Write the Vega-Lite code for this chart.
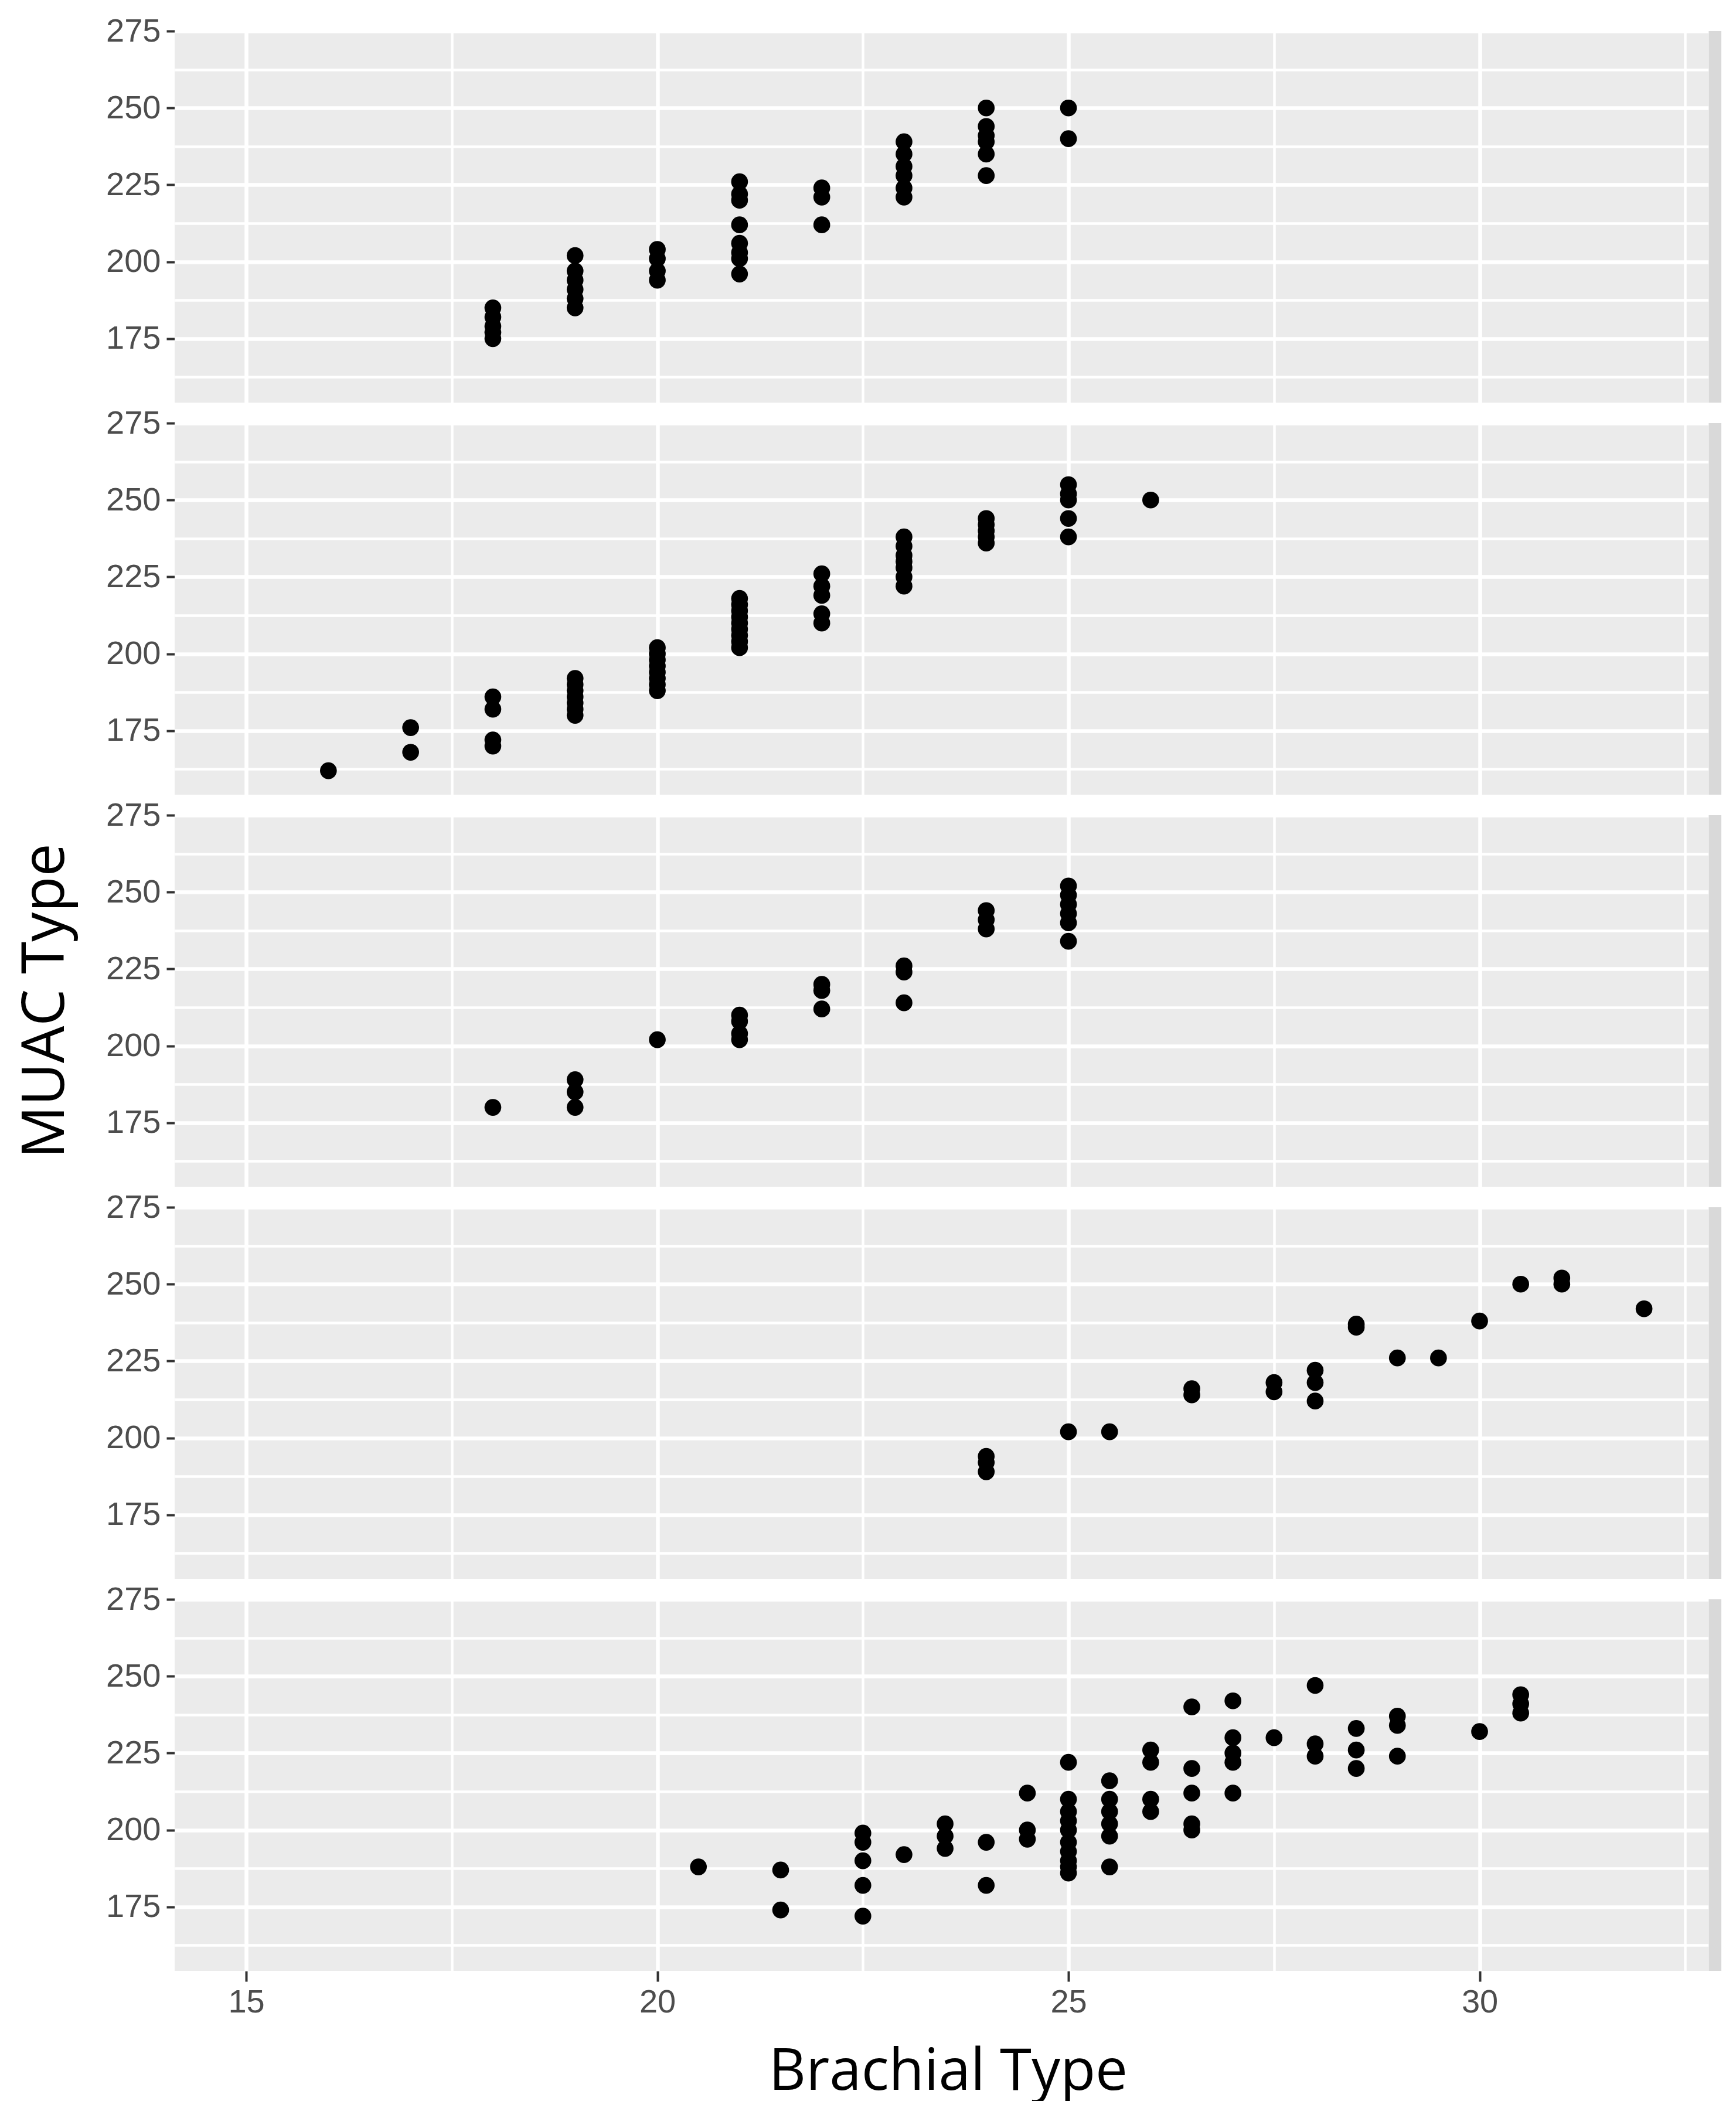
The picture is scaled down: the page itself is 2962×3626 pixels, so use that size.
{
  "$schema": "https://vega.github.io/schema/vega-lite/v6.json",
  "description": "MUAC Type against Brachial Type, five stacked panels",
  "background": "white",
  "padding": {"left": 28, "top": 25, "right": 0, "bottom": 0},
  "data": {
    "values": [
      {"panel": 1, "brachial": 18, "muac": 175}, {"panel": 1, "brachial": 18, "muac": 177}, {"panel": 1, "brachial": 18, "muac": 179},
      {"panel": 1, "brachial": 18, "muac": 182}, {"panel": 1, "brachial": 18, "muac": 185},
      {"panel": 1, "brachial": 19, "muac": 185}, {"panel": 1, "brachial": 19, "muac": 188}, {"panel": 1, "brachial": 19, "muac": 191},
      {"panel": 1, "brachial": 19, "muac": 194}, {"panel": 1, "brachial": 19, "muac": 197}, {"panel": 1, "brachial": 19, "muac": 202},
      {"panel": 1, "brachial": 20, "muac": 194}, {"panel": 1, "brachial": 20, "muac": 197}, {"panel": 1, "brachial": 20, "muac": 201},
      {"panel": 1, "brachial": 20, "muac": 204},
      {"panel": 1, "brachial": 21, "muac": 196}, {"panel": 1, "brachial": 21, "muac": 201}, {"panel": 1, "brachial": 21, "muac": 203},
      {"panel": 1, "brachial": 21, "muac": 206}, {"panel": 1, "brachial": 21, "muac": 212}, {"panel": 1, "brachial": 21, "muac": 220},
      {"panel": 1, "brachial": 21, "muac": 222}, {"panel": 1, "brachial": 21, "muac": 226},
      {"panel": 1, "brachial": 22, "muac": 212}, {"panel": 1, "brachial": 22, "muac": 221}, {"panel": 1, "brachial": 22, "muac": 224},
      {"panel": 1, "brachial": 23, "muac": 221}, {"panel": 1, "brachial": 23, "muac": 224}, {"panel": 1, "brachial": 23, "muac": 228},
      {"panel": 1, "brachial": 23, "muac": 231}, {"panel": 1, "brachial": 23, "muac": 235}, {"panel": 1, "brachial": 23, "muac": 239},
      {"panel": 1, "brachial": 24, "muac": 228}, {"panel": 1, "brachial": 24, "muac": 235}, {"panel": 1, "brachial": 24, "muac": 239},
      {"panel": 1, "brachial": 24, "muac": 241}, {"panel": 1, "brachial": 24, "muac": 244}, {"panel": 1, "brachial": 24, "muac": 250},
      {"panel": 1, "brachial": 25, "muac": 240}, {"panel": 1, "brachial": 25, "muac": 250},

      {"panel": 2, "brachial": 16, "muac": 162},
      {"panel": 2, "brachial": 17, "muac": 168}, {"panel": 2, "brachial": 17, "muac": 176},
      {"panel": 2, "brachial": 18, "muac": 170}, {"panel": 2, "brachial": 18, "muac": 172}, {"panel": 2, "brachial": 18, "muac": 182},
      {"panel": 2, "brachial": 18, "muac": 186},
      {"panel": 2, "brachial": 19, "muac": 180}, {"panel": 2, "brachial": 19, "muac": 182}, {"panel": 2, "brachial": 19, "muac": 184},
      {"panel": 2, "brachial": 19, "muac": 186}, {"panel": 2, "brachial": 19, "muac": 188}, {"panel": 2, "brachial": 19, "muac": 190},
      {"panel": 2, "brachial": 19, "muac": 192},
      {"panel": 2, "brachial": 20, "muac": 188}, {"panel": 2, "brachial": 20, "muac": 190}, {"panel": 2, "brachial": 20, "muac": 192},
      {"panel": 2, "brachial": 20, "muac": 194}, {"panel": 2, "brachial": 20, "muac": 196}, {"panel": 2, "brachial": 20, "muac": 198},
      {"panel": 2, "brachial": 20, "muac": 200}, {"panel": 2, "brachial": 20, "muac": 202},
      {"panel": 2, "brachial": 21, "muac": 202}, {"panel": 2, "brachial": 21, "muac": 204}, {"panel": 2, "brachial": 21, "muac": 206},
      {"panel": 2, "brachial": 21, "muac": 208}, {"panel": 2, "brachial": 21, "muac": 210}, {"panel": 2, "brachial": 21, "muac": 212},
      {"panel": 2, "brachial": 21, "muac": 214}, {"panel": 2, "brachial": 21, "muac": 216}, {"panel": 2, "brachial": 21, "muac": 218},
      {"panel": 2, "brachial": 22, "muac": 210}, {"panel": 2, "brachial": 22, "muac": 213}, {"panel": 2, "brachial": 22, "muac": 219},
      {"panel": 2, "brachial": 22, "muac": 222}, {"panel": 2, "brachial": 22, "muac": 226},
      {"panel": 2, "brachial": 23, "muac": 222}, {"panel": 2, "brachial": 23, "muac": 225}, {"panel": 2, "brachial": 23, "muac": 228},
      {"panel": 2, "brachial": 23, "muac": 230}, {"panel": 2, "brachial": 23, "muac": 232}, {"panel": 2, "brachial": 23, "muac": 235},
      {"panel": 2, "brachial": 23, "muac": 238},
      {"panel": 2, "brachial": 24, "muac": 236}, {"panel": 2, "brachial": 24, "muac": 238}, {"panel": 2, "brachial": 24, "muac": 240},
      {"panel": 2, "brachial": 24, "muac": 242}, {"panel": 2, "brachial": 24, "muac": 244},
      {"panel": 2, "brachial": 25, "muac": 238}, {"panel": 2, "brachial": 25, "muac": 244}, {"panel": 2, "brachial": 25, "muac": 250},
      {"panel": 2, "brachial": 25, "muac": 252}, {"panel": 2, "brachial": 25, "muac": 255},
      {"panel": 2, "brachial": 26, "muac": 250},

      {"panel": 3, "brachial": 18, "muac": 180},
      {"panel": 3, "brachial": 19, "muac": 180}, {"panel": 3, "brachial": 19, "muac": 185}, {"panel": 3, "brachial": 19, "muac": 189},
      {"panel": 3, "brachial": 20, "muac": 202},
      {"panel": 3, "brachial": 21, "muac": 202}, {"panel": 3, "brachial": 21, "muac": 204}, {"panel": 3, "brachial": 21, "muac": 208},
      {"panel": 3, "brachial": 21, "muac": 210},
      {"panel": 3, "brachial": 22, "muac": 212}, {"panel": 3, "brachial": 22, "muac": 218}, {"panel": 3, "brachial": 22, "muac": 220},
      {"panel": 3, "brachial": 23, "muac": 214}, {"panel": 3, "brachial": 23, "muac": 224}, {"panel": 3, "brachial": 23, "muac": 226},
      {"panel": 3, "brachial": 24, "muac": 238}, {"panel": 3, "brachial": 24, "muac": 241}, {"panel": 3, "brachial": 24, "muac": 244},
      {"panel": 3, "brachial": 25, "muac": 234}, {"panel": 3, "brachial": 25, "muac": 240}, {"panel": 3, "brachial": 25, "muac": 243},
      {"panel": 3, "brachial": 25, "muac": 246}, {"panel": 3, "brachial": 25, "muac": 249}, {"panel": 3, "brachial": 25, "muac": 252},

      {"panel": 4, "brachial": 24, "muac": 189}, {"panel": 4, "brachial": 24, "muac": 192}, {"panel": 4, "brachial": 24, "muac": 194},
      {"panel": 4, "brachial": 25, "muac": 202},
      {"panel": 4, "brachial": 25.5, "muac": 202},
      {"panel": 4, "brachial": 26.5, "muac": 214}, {"panel": 4, "brachial": 26.5, "muac": 216},
      {"panel": 4, "brachial": 27.5, "muac": 215}, {"panel": 4, "brachial": 27.5, "muac": 218},
      {"panel": 4, "brachial": 28, "muac": 212}, {"panel": 4, "brachial": 28, "muac": 218}, {"panel": 4, "brachial": 28, "muac": 222},
      {"panel": 4, "brachial": 28.5, "muac": 236}, {"panel": 4, "brachial": 28.5, "muac": 237},
      {"panel": 4, "brachial": 29, "muac": 226},
      {"panel": 4, "brachial": 29.5, "muac": 226},
      {"panel": 4, "brachial": 30, "muac": 238},
      {"panel": 4, "brachial": 30.5, "muac": 250},
      {"panel": 4, "brachial": 31, "muac": 250}, {"panel": 4, "brachial": 31, "muac": 252},
      {"panel": 4, "brachial": 32, "muac": 242},

      {"panel": 5, "brachial": 20.5, "muac": 188},
      {"panel": 5, "brachial": 21.5, "muac": 174}, {"panel": 5, "brachial": 21.5, "muac": 187},
      {"panel": 5, "brachial": 22.5, "muac": 172}, {"panel": 5, "brachial": 22.5, "muac": 182}, {"panel": 5, "brachial": 22.5, "muac": 190},
      {"panel": 5, "brachial": 22.5, "muac": 196}, {"panel": 5, "brachial": 22.5, "muac": 199},
      {"panel": 5, "brachial": 23, "muac": 192},
      {"panel": 5, "brachial": 23.5, "muac": 194}, {"panel": 5, "brachial": 23.5, "muac": 198}, {"panel": 5, "brachial": 23.5, "muac": 202},
      {"panel": 5, "brachial": 24, "muac": 182}, {"panel": 5, "brachial": 24, "muac": 196},
      {"panel": 5, "brachial": 24.5, "muac": 197}, {"panel": 5, "brachial": 24.5, "muac": 200}, {"panel": 5, "brachial": 24.5, "muac": 212},
      {"panel": 5, "brachial": 25, "muac": 186}, {"panel": 5, "brachial": 25, "muac": 188}, {"panel": 5, "brachial": 25, "muac": 190},
      {"panel": 5, "brachial": 25, "muac": 193}, {"panel": 5, "brachial": 25, "muac": 196}, {"panel": 5, "brachial": 25, "muac": 200},
      {"panel": 5, "brachial": 25, "muac": 203}, {"panel": 5, "brachial": 25, "muac": 206}, {"panel": 5, "brachial": 25, "muac": 210},
      {"panel": 5, "brachial": 25, "muac": 222},
      {"panel": 5, "brachial": 25.5, "muac": 188}, {"panel": 5, "brachial": 25.5, "muac": 198}, {"panel": 5, "brachial": 25.5, "muac": 202},
      {"panel": 5, "brachial": 25.5, "muac": 206}, {"panel": 5, "brachial": 25.5, "muac": 210}, {"panel": 5, "brachial": 25.5, "muac": 216},
      {"panel": 5, "brachial": 26, "muac": 206}, {"panel": 5, "brachial": 26, "muac": 210}, {"panel": 5, "brachial": 26, "muac": 222},
      {"panel": 5, "brachial": 26, "muac": 226},
      {"panel": 5, "brachial": 26.5, "muac": 200}, {"panel": 5, "brachial": 26.5, "muac": 202}, {"panel": 5, "brachial": 26.5, "muac": 212},
      {"panel": 5, "brachial": 26.5, "muac": 220}, {"panel": 5, "brachial": 26.5, "muac": 240},
      {"panel": 5, "brachial": 27, "muac": 212}, {"panel": 5, "brachial": 27, "muac": 222}, {"panel": 5, "brachial": 27, "muac": 225},
      {"panel": 5, "brachial": 27, "muac": 230}, {"panel": 5, "brachial": 27, "muac": 242},
      {"panel": 5, "brachial": 27.5, "muac": 230},
      {"panel": 5, "brachial": 28, "muac": 224}, {"panel": 5, "brachial": 28, "muac": 228}, {"panel": 5, "brachial": 28, "muac": 247},
      {"panel": 5, "brachial": 28.5, "muac": 220}, {"panel": 5, "brachial": 28.5, "muac": 226}, {"panel": 5, "brachial": 28.5, "muac": 233},
      {"panel": 5, "brachial": 29, "muac": 224}, {"panel": 5, "brachial": 29, "muac": 234}, {"panel": 5, "brachial": 29, "muac": 237},
      {"panel": 5, "brachial": 30, "muac": 232},
      {"panel": 5, "brachial": 30.5, "muac": 238}, {"panel": 5, "brachial": 30.5, "muac": 241}, {"panel": 5, "brachial": 30.5, "muac": 244}
    ]
  },
  "facet": {
    "row": {
      "field": "panel",
      "type": "ordinal",
      "header": {
        "title": "MUAC Type",
        "titleOrient": "left",
        "labels": false,
        "titleFont": "Open Sans",
        "titleFontSize": 100,
        "titleFontWeight": "normal",
        "titleColor": "black",
        "titlePadding": 40
      }
    }
  },
  "spacing": {"row": 35},
  "spec": {
    "width": 2639,
    "height": 634,
    "layer": [
      {
        "mark": {"type": "rect", "color": "#D9D9D9"},
        "encoding": {
          "x": {
            "datum": 32.79,
            "type": "quantitative",
            "scale": {"domain": [14.13, 32.94], "nice": false, "zero": false},
            "axis": {
              "orient": "top",
              "values": [17.5, 22.5, 27.5, 32.5],
              "grid": true,
              "gridColor": "white",
              "gridWidth": 4.5,
              "labels": false,
              "ticks": false,
              "domain": false,
              "title": null
            }
          },
          "x2": {"datum": 32.94},
          "y": {
            "datum": 154.2,
            "type": "quantitative",
            "scale": {"domain": [154.2, 275], "nice": false, "zero": false},
            "axis": {
              "orient": "right",
              "values": [162.5, 187.5, 212.5, 237.5, 262.5],
              "grid": true,
              "gridColor": "white",
              "gridWidth": 4.5,
              "labels": false,
              "ticks": false,
              "domain": false,
              "title": null
            }
          },
          "y2": {"datum": 275}
        }
      },
      {
        "mark": {"type": "circle", "color": "black", "size": 820, "opacity": 1},
        "encoding": {
          "x": {
            "field": "brachial",
            "type": "quantitative",
            "scale": {"domain": [14.13, 32.94], "nice": false, "zero": false},
            "axis": {
              "orient": "bottom",
              "values": [15, 20, 25, 30],
              "grid": true,
              "gridColor": "white",
              "gridWidth": 6.5,
              "domain": false,
              "tickColor": "#333333",
              "tickSize": 18,
              "tickWidth": 4,
              "labelFont": "Liberation Sans",
              "labelFontSize": 56,
              "labelColor": "#4D4D4D",
              "labelPadding": 8,
              "title": "Brachial Type",
              "titleFont": "Open Sans",
              "titleFontSize": 98,
              "titleFontWeight": "normal",
              "titleColor": "black",
              "titlePadding": 44
            }
          },
          "y": {
            "field": "muac",
            "type": "quantitative",
            "scale": {"domain": [154.2, 275], "nice": false, "zero": false},
            "axis": {
              "orient": "left",
              "values": [175, 200, 225, 250, 275],
              "grid": true,
              "gridColor": "white",
              "gridWidth": 6.5,
              "domain": false,
              "tickColor": "#333333",
              "tickSize": 14,
              "tickWidth": 4,
              "labelFont": "Liberation Sans",
              "labelFontSize": 56,
              "labelColor": "#4D4D4D",
              "labelPadding": 10,
              "title": null
            }
          }
        }
      }
    ],
    "resolve": {"axis": {"x": "independent", "y": "independent"}}
  },
  "config": {
    "view": {"fill": "#EBEBEB", "stroke": null}
  }
}
